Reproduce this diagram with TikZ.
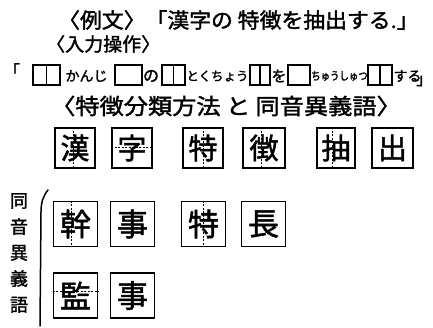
\documentclass[tikz,border=0pt]{standalone}
\usepackage{fontspec}
\setmainfont{Noto Sans CJK JP}[FakeBold=1.6]
\usetikzlibrary{calc}
\tikzset{
  kbox/.style={draw, line width=1.6pt, minimum width=40pt, minimum height=40pt, inner sep=0pt, font=\fontsize{29}{29}\selectfont},
  kbig/.style={draw, line width=1.6pt, minimum width=44pt, minimum height=45pt, inner sep=0pt, font=\fontsize{31}{31}\selectfont},
  slot/.style={draw, line width=1.4pt, minimum height=20pt, inner sep=0pt},
  divl/.style={line width=0.8pt, dash pattern=on 2pt off 1.5pt},
  kana/.style={inner sep=0pt},
}
\begin{document}
\begin{tikzpicture}[x=1pt,y=-1pt]
\useasboundingbox (0,0) rectangle (433,328);
% heading lines
\node[kana, anchor=west, font=\fontsize{21}{21}\selectfont] (l1) at (58,20) {\scalebox{1.04}[1]{〈例文〉「漢字の 特徴を抽出する.」}};
\node[kana, anchor=west, font=\fontsize{19}{19}\selectfont] (l2) at (46,44) {〈入力操作〉};
\node[kana, font=\fontsize{22}{22}\selectfont] (l4) at (226,106) {\scalebox{1.1}[1]{〈特徴分類方法 と 同音異義語〉}};
% input line
\node[kana, font=\fontsize{16}{16}\selectfont] (lq) at (12,70) {「};
\node[slot, minimum width=27pt] (sa) at (46.5,75) {};
\node[kana, font=\fontsize{14}{14}\selectfont] (t1) at (86.5,76) {かんじ};
\node[slot, minimum width=27pt] (sb) at (128.5,75) {};
\node[kana, font=\fontsize{16}{16}\selectfont] (t2) at (151,76) {の};
\node[slot, minimum width=23pt] (sc) at (173.5,75) {};
\node[kana, font=\fontsize{12.5}{12.5}\selectfont] (t3) at (217.5,76) {とくちょう};
\node[slot, minimum width=20pt] (sd) at (260,75) {};
\node[kana, font=\fontsize{15}{15}\selectfont] (t4) at (279,76) {を};
\node[slot, minimum width=22pt] (se) at (299,75) {};
\node[kana, font=\fontsize{11.5}{11.5}\selectfont] (t5) at (339.5,76) {\scalebox{0.82}[1]{ちゅうしゅつ}};
\node[slot, minimum width=24pt] (sf) at (380,75) {};
\node[kana, font=\fontsize{14}{14}\selectfont] (t6) at (407.5,76) {する};
\node[kana, anchor=east, font=\fontsize{16}{16}\selectfont] (rq) at (432.5,81) {」};
\foreach \s in {sa,sc,sd,sf} \draw[line width=1.3pt] (\s.north) -- (\s.south);
% row 1
\node[kbox] (k1) at (75,148) {漢};
\node[kbox] (k2) at (132,148) {字};
\node[kbox] (k3) at (203,148) {特};
\node[kbox, minimum width=42pt] (k4) at (264,148) {徴};
\node[kbox, minimum width=38pt] (k5) at (336,148) {抽};
\node[kbox, minimum width=41pt] (k6) at (392.5,148) {出};
\draw[divl] ($(k1.north west)!0.45!(k1.north east)$) -- ($(k1.south west)!0.45!(k1.south east)$);
\draw[divl] ($(k2.north west)!0.48!(k2.south west)$) -- ($(k2.north east)!0.48!(k2.south east)$);
\draw[divl] (k3.north) -- (k3.south);
\draw[divl] ($(k4.north west)!0.45!(k4.north east)$) -- ($(k4.south west)!0.45!(k4.south east)$);
\draw[divl] ($(k5.north west)!0.40!(k5.north east)$) -- ($(k5.south west)!0.40!(k5.south east)$);
% homonyms
\node[align=center, inner sep=0pt, font=\fontsize{18}{26}\selectfont] (vt) at (19,253) {同\\音\\異\\義\\語};
\draw[line width=1.5pt, line cap=round] (48,190) .. controls (43,196) and (41,203) .. (41,212) -- (40,326);
\node[kbig] (h1) at (75.5,224) {幹};
\node[kbig] (h2) at (132.5,224) {事};
\node[kbig] (h3) at (203.5,224) {特};
\node[kbig] (h4) at (263.5,224) {長};
\node[kbig] (m1) at (75.5,295.5) {監};
\node[kbig] (m2) at (132.5,295.5) {事};
\draw[divl] ($(h1.north west)!0.42!(h1.north east)$) -- ($(h1.south west)!0.42!(h1.south east)$);
\draw[divl] (h3.north) -- (h3.south);
\draw[divl] ($(m1.north west)!0.42!(m1.south west)$) -- ($(m1.north east)!0.42!(m1.south east)$);
\end{tikzpicture}
\end{document}
